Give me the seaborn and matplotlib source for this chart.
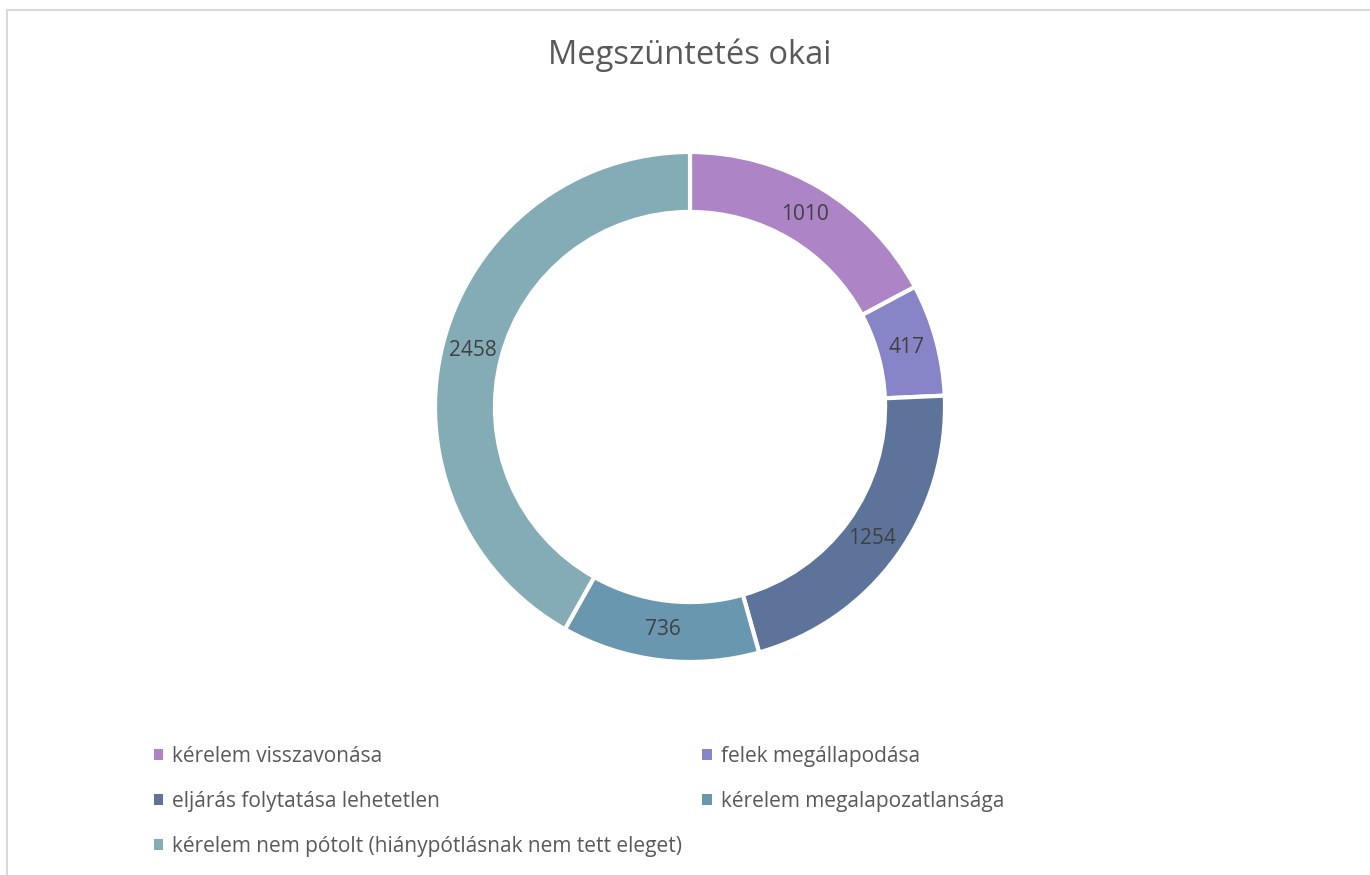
import numpy as np
import seaborn as sns
import matplotlib.pyplot as plt
from matplotlib.patches import Patch
from matplotlib.lines import Line2D

# data
categories = ['kérelem visszavonása', 'felek megállapodása', 'eljárás folytatása lehetetlen',
              'kérelem megalapozatlansága', 'kérelem nem pótolt (hiánypótlásnak nem tett eleget)']
values = [1010, 417, 1254, 736, 2458]
colors = ['#AD84C6', '#8784C7', '#5D739A', '#6997AF', '#84ACB6']

sns.set_theme(style='white')
plt.rcParams['font.family'] = ['Open Sans', 'DejaVu Sans']

W, H = 1370, 875
fig = plt.figure(figsize=(W / 100, H / 100), dpi=100)

# donut: centre (690, 407) px, outer radius 255 px
cx, cy, r = 690, 407, 255
ax = fig.add_axes([(cx - r) / W, (H - cy - r) / H, 2 * r / W, 2 * r / H])
pal = sns.color_palette(colors)
total = sum(values)
wedges, texts, autotexts = ax.pie(
    values, colors=pal, startangle=90, counterclock=False, radius=1,
    wedgeprops=dict(width=0.235, edgecolor='white', linewidth=3),
    autopct=lambda p: f'{round(p * total / 100):.0f}', pctdistance=0.88,
    textprops=dict(color='#404040', fontsize=15))
ax.set_xlim(-1, 1)
ax.set_ylim(-1, 1)
ax.set_aspect('equal')
ax.axis('off')

fig.text(cx / W, 1 - 55 / H, 'Megszüntetés okai', ha='center', va='center',
         fontsize=23.5, color='#595959')

# legend, row-major order as in the reference
order = [0, 2, 4, 1, 3]
handles = [Patch(facecolor=colors[i], edgecolor='none') for i in order]
labels = [categories[i] for i in order]
fig.legend(handles, labels, ncol=2, loc='upper left', bbox_to_anchor=(135 / W, 1 - 727 / H),
           frameon=False, fontsize=15, labelcolor='#595959', handlelength=0.45, handleheight=0.45,
           handletextpad=0.45, labelspacing=1.15, columnspacing=0.95)

# chart frame
fig.add_artist(Line2D([7 / W, 1], [1 - 10 / H, 1 - 10 / H], color='#D9D9D9', lw=1.5))
fig.add_artist(Line2D([7 / W, 7 / W], [0, 1 - 10 / H], color='#D9D9D9', lw=1.5))

fig.savefig('out.png', dpi=100)
